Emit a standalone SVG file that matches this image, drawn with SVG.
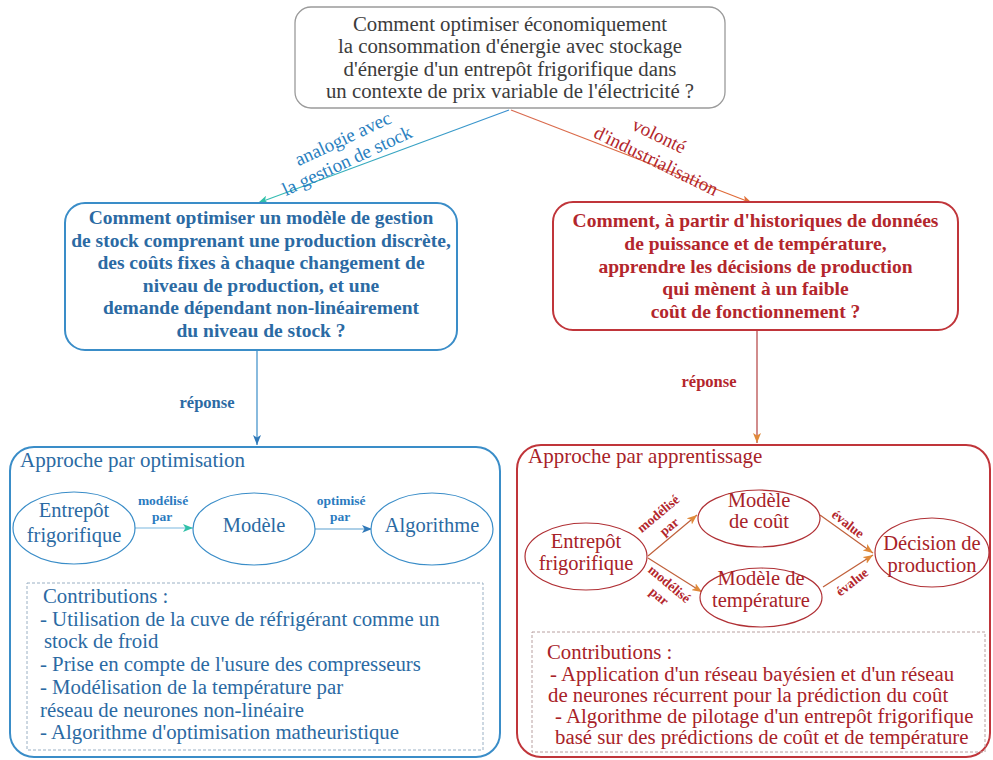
<svg xmlns="http://www.w3.org/2000/svg" width="993" height="760" viewBox="0 0 993 760">
<defs>
<style>
text { font-family: "Liberation Serif", "DejaVu Serif", serif; }
.top { font-size: 20.8px; fill: #3c3c3c; text-anchor: middle; }
.qb { font-size: 19.5px; font-weight: bold; fill: #2b6aa3; text-anchor: middle; }
.qr { font-size: 19.5px; font-weight: bold; fill: #b3262c; text-anchor: middle; }
.eb { font-size: 20.5px; fill: #2b6aa3; text-anchor: middle; }
.er { font-size: 20.5px; fill: #a82228; text-anchor: middle; }
.tb { font-size: 21px; fill: #2b6aa3; }
.tr { font-size: 21px; fill: #a82228; }
.cb { font-size: 20.8px; fill: #2b6aa3; }
.cr { font-size: 20.8px; fill: #a82228; }
.lb { font-size: 13.5px; font-weight: bold; fill: #2b7bbf; text-anchor: middle; }
.lr { font-size: 13.5px; font-weight: bold; fill: #b3262c; text-anchor: middle; }
.rb { font-size: 16.5px; font-weight: bold; fill: #2b6aa3; text-anchor: middle; }
.rr { font-size: 16.5px; font-weight: bold; fill: #b3262c; text-anchor: middle; }
.ab { font-size: 19px; fill: #2a7fc0; text-anchor: middle; }
.ar { font-size: 19px; fill: #b3262c; text-anchor: middle; }
.boxb { fill: #ffffff; stroke: #3a8dc8; stroke-width: 2; }
.boxr { fill: #ffffff; stroke: #c0353a; stroke-width: 2; }
.ellb { fill: #ffffff; stroke: #3a8dc8; stroke-width: 1.2; }
.ellr { fill: #ffffff; stroke: #b03035; stroke-width: 1.2; }
.dash { fill: none; stroke-width: 1; stroke-dasharray: 3 2; }
.conn { fill: none; stroke-width: 1.2; }
</style>
<linearGradient id="gL" gradientUnits="userSpaceOnUse" x1="509" y1="110" x2="258" y2="203">
<stop offset="0" stop-color="#3a8fd0"/><stop offset="1" stop-color="#34bfb0"/>
</linearGradient>
<linearGradient id="gR" gradientUnits="userSpaceOnUse" x1="511" y1="110" x2="752" y2="203">
<stop offset="0" stop-color="#d86a50"/><stop offset="1" stop-color="#e06a35"/>
</linearGradient>
<marker id="mTeal" markerUnits="userSpaceOnUse" markerWidth="10" markerHeight="8" refX="10" refY="4" orient="auto"><path d="M0,0 L10,4 L0,8 L2.5,4 z" fill="#30c0a8"/></marker>
<marker id="mBlue" markerUnits="userSpaceOnUse" markerWidth="10" markerHeight="8" refX="10" refY="4" orient="auto"><path d="M0,0 L10,4 L0,8 L2.5,4 z" fill="#2f78b8"/></marker>
<marker id="mOrange" markerUnits="userSpaceOnUse" markerWidth="10" markerHeight="8" refX="10" refY="4" orient="auto"><path d="M0,0 L10,4 L0,8 L2.5,4 z" fill="#e0703a"/></marker>
<marker id="mTan" markerUnits="userSpaceOnUse" markerWidth="10" markerHeight="8" refX="10" refY="4" orient="auto"><path d="M0,0 L10,4 L0,8 L2.5,4 z" fill="#e08a3a"/></marker>
</defs>
<rect width="993" height="760" fill="#ffffff"/>

<g id="connectors">
<line class="conn" x1="509" y1="110" x2="258" y2="203" stroke="url(#gL)" marker-end="url(#mTeal)"/>
<line class="conn" x1="511" y1="110" x2="752" y2="203" stroke="url(#gR)" marker-end="url(#mOrange)"/>
<text class="ab" transform="rotate(-25 345.5 144.4)" x="345.5" y="144.4">analogie avec</text>
<text class="ab" transform="rotate(-25 349.5 166.4)" x="349.5" y="166.4">la gestion de stock</text>
<text class="ar" transform="rotate(26 656.4 141.4)" x="656.4" y="141.4">volonté</text>
<text class="ar" transform="rotate(26 653.4 166.4)" x="653.4" y="166.4">d'industrialisation</text>
<line class="conn" x1="257" y1="350" x2="257" y2="445" stroke="#3a8dc8" marker-end="url(#mBlue)"/>
<text class="rb" x="207" y="408">réponse</text>
<line class="conn" x1="757" y1="330" x2="757" y2="443" stroke="#b34040" marker-end="url(#mTan)"/>
<text class="rr" x="709" y="387">réponse</text>
</g>

<g id="top-question">
<rect x="295" y="7" width="430" height="101" rx="16" fill="#ffffff" stroke="#9a9a9a" stroke-width="1.3"/>
<text class="top" x="510" y="30.7">Comment optimiser économiquement</text>
<text class="top" x="510" y="53.3">la consommation d'énergie avec stockage</text>
<text class="top" x="510" y="75.8">d'énergie d'un entrepôt frigorifique dans</text>
<text class="top" x="510" y="98.3">un contexte de prix variable de l'électricité ?</text>
</g>

<g id="left-question">
<rect class="boxb" x="65" y="203" width="392" height="147" rx="20"/>
<text class="qb" x="261" y="224">Comment optimiser un modèle de gestion</text>
<text class="qb" x="261" y="246.6">de stock comprenant une production discrète,</text>
<text class="qb" x="261" y="269.2">des coûts fixes à chaque changement de</text>
<text class="qb" x="261" y="291.8">niveau de production, et une</text>
<text class="qb" x="261" y="314.4">demande dépendant non-linéairement</text>
<text class="qb" x="261" y="337">du niveau de stock ?</text>
</g>

<g id="right-question">
<rect class="boxr" x="553" y="202" width="405" height="128" rx="20"/>
<text class="qr" x="755.5" y="227">Comment, à partir d'historiques de données</text>
<text class="qr" x="755.5" y="249.8">de puissance et de température,</text>
<text class="qr" x="755.5" y="272.5">apprendre les décisions de production</text>
<text class="qr" x="755.5" y="295.3">qui mènent à un faible</text>
<text class="qr" x="755.5" y="318">coût de fonctionnement ?</text>
</g>

<g id="optimisation-approach">
<rect class="boxb" x="10" y="447" width="490" height="310" rx="24"/>
<text class="tb" x="20" y="467">Approche par optimisation</text>
<line class="conn" x1="135" y1="528" x2="193" y2="528" stroke="#7ab8e0" marker-end="url(#mTeal)"/>
<text class="lb" x="163" y="505">modélisé</text>
<text class="lb" x="162" y="521">par</text>
<line class="conn" x1="315" y1="529" x2="372" y2="529" stroke="#5a9fd0" marker-end="url(#mBlue)"/>
<text class="lb" x="341" y="505">optimisé</text>
<text class="lb" x="340" y="521">par</text>
<g id="opt-entrepot">
<ellipse class="ellb" cx="74" cy="528" rx="61" ry="36"/>
<text class="eb" x="74" y="517">Entrepôt</text>
<text class="eb" x="74" y="541.7">frigorifique</text>
</g>
<g id="opt-modele">
<ellipse class="ellb" cx="254" cy="529" rx="61" ry="36"/>
<text class="eb" x="254" y="531.7">Modèle</text>
</g>
<g id="opt-algorithme">
<ellipse class="ellb" cx="432" cy="529" rx="61" ry="36"/>
<text class="eb" x="432" y="531.7">Algorithme</text>
</g>
<g id="opt-contributions">
<rect class="dash" x="27" y="583" width="456" height="167" stroke="#9ab0c4"/>
<text class="cb" x="43" y="603">Contributions :</text>
<text class="cb" x="40" y="626">- Utilisation de la cuve de réfrigérant comme un</text>
<text class="cb" x="44" y="648">stock de froid</text>
<text class="cb" x="40" y="671">- Prise en compte de l'usure des compresseurs</text>
<text class="cb" x="40" y="694">- Modélisation de la température par</text>
<text class="cb" x="40" y="717">réseau de neurones non-linéaire</text>
<text class="cb" x="40" y="739">- Algorithme d'optimisation matheuristique</text>
</g>
</g>

<g id="learning-approach">
<rect class="boxr" x="517" y="445" width="473" height="312" rx="24"/>
<text class="tr" x="528" y="463">Approche par apprentissage</text>
<line class="conn" x1="648" y1="556" x2="697" y2="515" stroke="#c0603a" marker-end="url(#mTan)"/>
<line class="conn" x1="648" y1="558" x2="702" y2="592" stroke="#c0603a" marker-end="url(#mTan)"/>
<line class="conn" x1="820" y1="515" x2="873" y2="553" stroke="#c0603a" marker-end="url(#mTan)"/>
<line class="conn" x1="823" y1="587" x2="873" y2="555" stroke="#c0603a" marker-end="url(#mTan)"/>
<g transform="translate(664 520.5) rotate(-40)">
<text class="lr" x="0" y="-4.5">modélisé</text>
<text class="lr" x="0" y="12.5">par</text>
</g>
<g transform="translate(664 590.5) rotate(40)">
<text class="lr" x="0" y="-4">modélisé</text>
<text class="lr" x="0" y="12">par</text>
</g>
<text class="lr" transform="rotate(38 845.2 527.5)" x="845.2" y="527.5">évalue</text>
<text class="lr" transform="rotate(-38 854.8 585.5)" x="854.8" y="585.5">évalue</text>
<g id="learn-entrepot">
<ellipse class="ellr" cx="586" cy="556.5" rx="61" ry="33.5"/>
<text class="er" x="586" y="548">Entrepôt</text>
<text class="er" x="586" y="570">frigorifique</text>
</g>
<g id="learn-cout">
<ellipse class="ellr" cx="759" cy="518.5" rx="61" ry="28.5"/>
<text class="er" x="759" y="507">Modèle</text>
<text class="er" x="759" y="528">de coût</text>
</g>
<g id="learn-temperature">
<ellipse class="ellr" cx="761" cy="597.5" rx="61" ry="29.5"/>
<text class="er" x="761" y="585">Modèle de</text>
<text class="er" x="761" y="607">température</text>
</g>
<g id="learn-decision">
<ellipse class="ellr" cx="932" cy="552.5" rx="57" ry="34.5"/>
<text class="er" x="932" y="550">Décision de</text>
<text class="er" x="932" y="572">production</text>
</g>
<g id="learn-contributions">
<rect class="dash" x="532" y="632" width="453" height="120" stroke="#b8a0a0"/>
<text class="cr" x="547" y="659">Contributions :</text>
<text class="cr" x="550" y="681">- Application d'un réseau bayésien et d'un réseau</text>
<text class="cr" x="548" y="702">de neurones récurrent pour la prédiction du coût</text>
<text class="cr" x="555" y="723">- Algorithme de pilotage d'un entrepôt frigorifique</text>
<text class="cr" x="555" y="744">basé sur des prédictions de coût et de température</text>
</g>
</g>
</svg>
